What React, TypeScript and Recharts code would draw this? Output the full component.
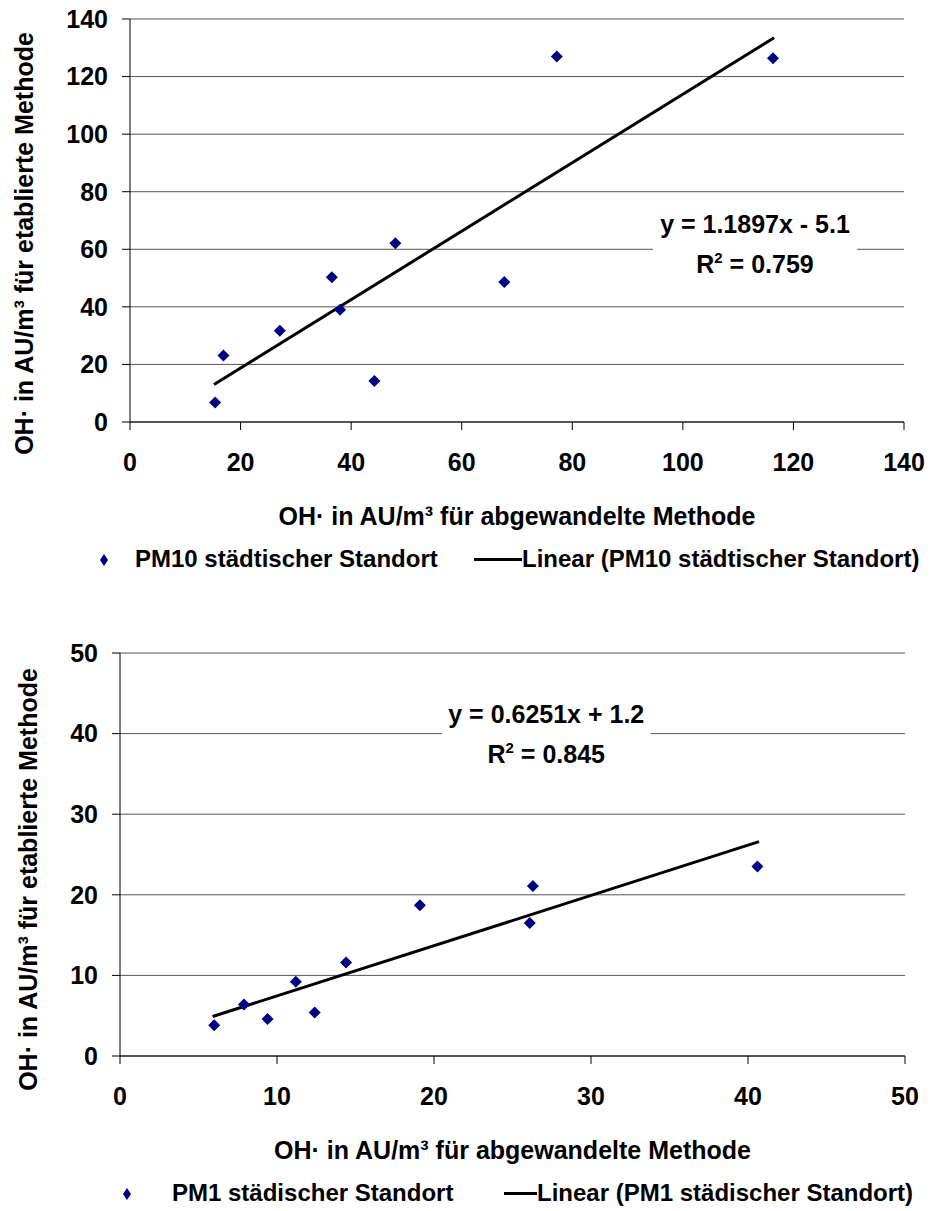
import React from "react";
import {
  ScatterChart,
  Scatter,
  XAxis,
  YAxis,
  CartesianGrid,
  Legend,
  ReferenceArea,
} from "recharts";

const FONT = '"Liberation Sans", Arial, Helvetica, sans-serif';
const NAVY = "#000080";

const X_TITLE = "OH· in AU/m³ für abgewandelte Methode";
const Y_TITLE = "OH· in AU/m³ für etablierte Methode";

// PM10 urban site
const pm10X = [15.4, 16.9, 27.1, 36.5, 38.0, 44.2, 48.0, 67.7, 77.2, 116.3];
const pm10Y = [6.8, 23.1, 31.7, 50.3, 39.0, 14.2, 62.1, 48.6, 127.0, 126.4];
const pm10TrendX = [15.2, 116.5];
const pm10TrendY = [13.0, 133.5];
const pm10Ticks = [0, 20, 40, 60, 80, 100, 120, 140];
const pm10Names = ["PM10 städtischer Standort", "Linear (PM10 städtischer Standort)"];
const pm10Eq = ["y = 1.1897x - 5.1", "0.759"];

// PM1 urban site
const pm1X = [6.0, 7.9, 9.4, 11.2, 12.4, 14.4, 19.1, 26.3, 26.1, 40.6];
const pm1Y = [3.8, 6.4, 4.6, 9.2, 5.4, 11.6, 18.7, 21.1, 16.5, 23.5];
const pm1TrendX = [5.9, 40.7];
const pm1TrendY = [4.9, 26.6];
const pm1Ticks = [0, 10, 20, 30, 40, 50];
const pm1Names = ["PM1 städischer Standort", "Linear (PM1 städischer Standort)"];
const pm1Eq = ["y = 0.6251x + 1.2", "0.845"];

const zip = (xs: number[], ys: number[]) => xs.map((x, i) => ({ x, y: ys[i] }));

function Diamond(props: any) {
  const { cx, cy } = props;
  if (cx == null || cy == null) return null;
  const r = 6;
  return (
    <path
      d={`M${cx},${cy - r}L${cx + r},${cy}L${cx},${cy + r}L${cx - r},${cy}Z`}
      fill={NAVY}
    />
  );
}

function EquationBox(props: any) {
  const { x, y, width, height, eq, r2 } = props;
  const cx = x + width / 2;
  return (
    <g>
      <rect x={x} y={y} width={width} height={height} fill="#fff" />
      <text x={cx} y={y + 28} textAnchor="middle" fontSize={25} fontWeight="bold" fontFamily={FONT} fill="#000">
        {eq}
      </text>
      <text x={cx} y={y + 68} textAnchor="middle" fontSize={25} fontWeight="bold" fontFamily={FONT} fill="#000">
        R<tspan dy={-10} fontSize={15}>2</tspan>
        <tspan dy={10}> = {r2}</tspan>
      </text>
    </g>
  );
}

function YTitle(props: any) {
  const vb = props.viewBox ?? { x: 0, y: 0, width: 0, height: 400 };
  const px = vb.x + props.baseX;
  const py = vb.y + vb.height / 2 + props.shift;
  return (
    <text
      x={px}
      y={py}
      transform={`rotate(-90, ${px}, ${py})`}
      textAnchor="middle"
      fontSize={25}
      fontWeight="bold"
      fontFamily={FONT}
      fill="#000"
    >
      {Y_TITLE}
    </text>
  );
}

function LegendBox(props: any) {
  const { names, pos } = props;
  const text: React.CSSProperties = {
    position: "absolute",
    top: 0,
    fontSize: 24,
    fontWeight: "bold",
    fontFamily: FONT,
    lineHeight: "28px",
    whiteSpace: "nowrap",
    color: "#000",
  };
  return (
    <div style={{ position: "relative", width: 930, height: 28 }}>
      <svg style={{ position: "absolute", left: pos[0] - 5, top: 9 }} width={10} height={12}>
        <path d="M5,0L9,6L5,12L1,6Z" fill={NAVY} />
      </svg>
      <span style={{ ...text, left: pos[1] }}>{names[0]}</span>
      <div style={{ position: "absolute", left: pos[2], top: 13, width: pos[3] - pos[2], height: 3, background: "#000" }} />
      <span style={{ ...text, left: pos[3] }}>{names[1]}</span>
    </div>
  );
}

function Panel(props: any) {
  const {
    xs, ys, tx, ty, ticks, names, eq, box, height, margin, yWidth, legendTop, legendPos, yBaseX, yShift,
  } = props;
  const max = ticks[ticks.length - 1];
  const tickStyle = { fill: "#000", fontSize: 25, fontWeight: "bold", fontFamily: FONT };
  return (
    <ScatterChart width={930} height={height} margin={margin}>
      <CartesianGrid vertical={false} stroke="#555" />
      <XAxis
        type="number"
        dataKey="x"
        domain={[0, max]}
        ticks={ticks}
        interval={0}
        allowDataOverflow
        height={110}
        tickSize={8}
        tickMargin={23}
        axisLine={{ stroke: "#000" }}
        tickLine={{ stroke: "#000" }}
        tick={tickStyle}
        label={{
          value: X_TITLE,
          position: "insideBottom",
          offset: 7,
          fill: "#000",
          fontSize: 25,
          fontWeight: "bold",
          fontFamily: FONT,
        }}
      />
      <YAxis
        type="number"
        dataKey="y"
        domain={[0, max]}
        ticks={ticks}
        interval={0}
        allowDataOverflow
        width={yWidth}
        tickSize={8}
        tickMargin={14}
        axisLine={{ stroke: "#000" }}
        tickLine={{ stroke: "#000" }}
        tick={tickStyle}
        label={{ content: (p: any) => <YTitle {...p} baseX={yBaseX} shift={yShift} /> }}
      />
      <ReferenceArea
        x1={box[0]}
        x2={box[1]}
        y1={box[2]}
        y2={box[3]}
        shape={(p: any) => <EquationBox {...p} eq={eq[0]} r2={eq[1]} />}
      />
      <Scatter
        name={names[1]}
        data={zip(tx, ty)}
        line={{ stroke: "#000", strokeWidth: 3 }}
        shape={() => <g />}
        isAnimationActive={false}
      />
      <Scatter name={names[0]} data={zip(xs, ys)} shape={Diamond} isAnimationActive={false} />
      <Legend
        layout="horizontal"
        verticalAlign="middle"
        wrapperStyle={{ top: legendTop, left: 0, width: 930 }}
        content={() => <LegendBox names={names} pos={legendPos} />}
      />
    </ScatterChart>
  );
}

export default function App() {
  return (
    <div style={{ position: "absolute", left: 0, top: 0, width: 930, height: 1211, background: "#fff" }}>
      <div style={{ position: "absolute", left: 0, top: 0 }}>
        <Panel
          xs={pm10X}
          ys={pm10Y}
          tx={pm10TrendX}
          ty={pm10TrendY}
          ticks={pm10Ticks}
          names={pm10Names}
          eq={pm10Eq}
          box={[94.6, 131.5, 47.7, 75.5]}
          height={610}
          margin={{ top: 19, right: 26, left: 0, bottom: 78 }}
          yWidth={130}
          legendTop={545}
          legendPos={[104, 135, 474, 522]}
          yBaseX={33}
          yShift={23}
        />
      </div>
      <div style={{ position: "absolute", left: 0, top: 610 }}>
        <Panel
          xs={pm1X}
          ys={pm1Y}
          tx={pm1TrendX}
          ty={pm1TrendY}
          ticks={pm1Ticks}
          names={pm1Names}
          eq={pm1Eq}
          box={[20.5, 33.8, 35.1, 44.8]}
          height={601}
          margin={{ top: 43, right: 25, left: 0, bottom: 45 }}
          yWidth={120}
          legendTop={569}
          legendPos={[127, 172, 504, 537]}
          yBaseX={37}
          yShift={25}
        />
      </div>
    </div>
  );
}
